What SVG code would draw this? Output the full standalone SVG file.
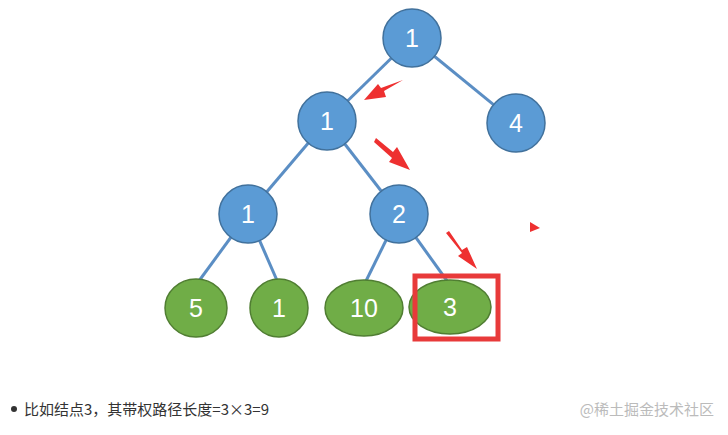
<svg xmlns="http://www.w3.org/2000/svg" width="728" height="435" viewBox="0 0 728 435">
<style>
.b{fill:#5b9bd5;stroke:#41719c;stroke-width:1.5}
.g{fill:#70ad47;stroke:#507e32;stroke-width:1.5}
.t{font-family:"Liberation Sans",Arial,sans-serif;font-size:25px;fill:#fff;text-anchor:middle;dominant-baseline:central}
.e line{stroke:#5b8ec4;stroke-width:3}
.ar{fill:#ee3030}
</style>
<rect width="728" height="435" fill="#fff"/>
<g class="e" id="connectors">
<line x1="412" y1="38" x2="327" y2="121"/>
<line x1="412" y1="38" x2="516" y2="123"/>
<line x1="327" y1="121" x2="248" y2="214"/>
<line x1="327" y1="121" x2="399" y2="214"/>
<line x1="248" y1="214" x2="196" y2="285"/>
<line x1="248" y1="214" x2="279" y2="285"/>
<line x1="399" y1="214" x2="364" y2="285"/>
<line x1="399" y1="214" x2="450" y2="285"/>
</g>
<g id="n1"><circle class="b" cx="412" cy="38" r="29"/><text class="t" x="412" y="38">1</text></g>
<g id="n2"><circle class="b" cx="327" cy="121" r="29"/><text class="t" x="327" y="121">1</text></g>
<g id="n3"><circle class="b" cx="516" cy="123" r="29"/><text class="t" x="516" y="123">4</text></g>
<g id="n4"><circle class="b" cx="248" cy="214" r="29"/><text class="t" x="248" y="214">1</text></g>
<g id="n5"><circle class="b" cx="399" cy="214" r="29"/><text class="t" x="399" y="214">2</text></g>
<g id="n6"><ellipse class="g" cx="196" cy="308" rx="31" ry="29"/><text class="t" x="196" y="308">5</text></g>
<g id="n7"><ellipse class="g" cx="279" cy="308" rx="29" ry="29"/><text class="t" x="279" y="308">1</text></g>
<g id="n8"><ellipse class="g" cx="364" cy="308" rx="39" ry="28"/><text class="t" x="364" y="308">10</text></g>
<g id="n9"><ellipse class="g" cx="450" cy="307" rx="41" ry="27"/><text class="t" x="450" y="307">3</text></g>
<rect x="415" y="276" width="83" height="63" fill="none" stroke="#e83a3a" stroke-width="5"/>
<g id="arrows" class="ar">
<polygon points="403,80 384,91 386,97 364,100 378,84 381,88"/>
<polygon points="376,138 393,152 397,147 410,170 389,162 392,158 374,142"/>
<polygon points="449,231 462,250 467,247 477,269 458,256 462,253 446,233"/>
<polygon points="530,222 540,228 530,232"/>
</g>
<circle cx="14" cy="409" r="3" fill="#333"/>
<text x="24" y="415" font-family="'Noto Sans CJK SC',sans-serif" font-size="15" fill="#333">比如结点3，其带权路径长度=3×3=9</text>
<text x="714" y="415" text-anchor="end" font-family="'Noto Sans CJK SC',sans-serif" font-size="15" fill="#bbb">@稀土掘金技术社区</text>
</svg>
